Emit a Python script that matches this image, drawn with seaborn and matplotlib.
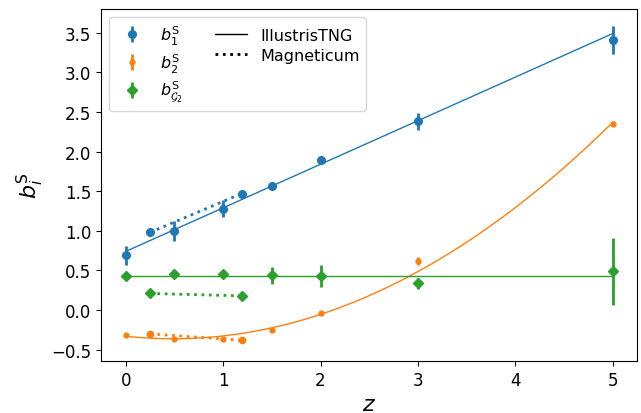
import numpy as np
import pandas as pd
import matplotlib
matplotlib.use("Agg")
import matplotlib.pyplot as plt
from matplotlib.lines import Line2D
import seaborn as sns

# IllustrisTNG measurements
z_tng = [0.0, 0.5, 1.0, 1.5, 2.0, 3.0, 5.0]
b1_tng = [0.69, 1.00, 1.28, 1.57, 1.89, 2.38, 3.41]
b1_tng_err = [0.12, 0.13, 0.11, 0.05, 0.04, 0.11, 0.18]
b2_tng = [-0.32, -0.37, -0.36, -0.25, -0.04, 0.62, 2.35]
b2_tng_err = [0.01, 0.01, 0.01, 0.01, 0.02, 0.05, 0.03]
bg2_tng = [0.43, 0.45, 0.46, 0.44, 0.43, 0.34, 0.49]
bg2_tng_err = [0.02, 0.02, 0.03, 0.11, 0.14, 0.07, 0.42]

# Magneticum measurements
z_mag = [0.25, 1.19]
b1_mag = [0.98, 1.47]
b2_mag = [-0.30, -0.38]
bg2_mag = [0.21, 0.18]

# IllustrisTNG polynomial fits (coefficients in increasing power of z)
fit_b1 = [0.74, 0.55]
fit_b2 = [-0.33, -0.13, 0.134]
fit_bg2 = [0.435]

labels = [r"$b_1^{\rm S}$", r"$b_2^{\rm S}$", r"$b_{\mathcal{G}_2}^{\rm S}$"]

sns.set_style("ticks", rc={"axes.edgecolor": "black", "xtick.color": "black",
                           "ytick.color": "black", "text.color": "black",
                           "axes.labelcolor": "black", "axes.linewidth": 0.8,
                           "xtick.major.size": 3.5, "ytick.major.size": 3.5,
                           "xtick.major.width": 0.8, "ytick.major.width": 0.8})
plt.rcParams["font.family"] = ["DejaVu Sans"]
plt.rcParams["legend.framealpha"] = 0.8
plt.rcParams["legend.edgecolor"] = "0.8"
plt.rcParams["legend.fancybox"] = True

pal = sns.color_palette("tab10")
c1, c2, c3 = pal[0], pal[1], pal[2]

fig, ax = plt.subplots(figsize=(6.41, 4.14), dpi=100)
fig.subplots_adjust(left=0.158, right=0.994, top=0.976, bottom=0.126)

zz = np.linspace(0, 5, 200)
fits = pd.DataFrame({
    "z": np.tile(zz, 3),
    "b": np.concatenate([np.polynomial.polynomial.polyval(zz, fit_b1),
                         np.polynomial.polynomial.polyval(zz, fit_b2),
                         np.polynomial.polynomial.polyval(zz, fit_bg2) * np.ones_like(zz)]),
    "kind": np.repeat(["b1", "b2", "bg2"], len(zz)),
})
sns.lineplot(data=fits, x="z", y="b", hue="kind", palette=[c1, c2, c3],
             linewidth=1, legend=False, ax=ax)

mag = pd.DataFrame({"z": z_mag * 3, "b": b1_mag + b2_mag + bg2_mag,
                    "kind": np.repeat(["b1", "b2", "bg2"], len(z_mag))})
sns.lineplot(data=mag, x="z", y="b", hue="kind", palette=[c1, c2, c3],
             linewidth=2, linestyle=":", legend=False, ax=ax)
ax.plot(z_mag, b1_mag, "o", color=c1, ms=5.5)
ax.plot(z_mag, b2_mag, "o", color=c2, ms=4.5)
ax.plot(z_mag, bg2_mag, "D", color=c3, ms=5.5)

h1 = ax.errorbar(z_tng, b1_tng, yerr=b1_tng_err, fmt="o", color=c1, ms=5.5,
                 elinewidth=2, label=labels[0])
h2 = ax.errorbar(z_tng, b2_tng, yerr=b2_tng_err, fmt="o", color=c2, ms=3.5,
                 elinewidth=2, label=labels[1])
h3 = ax.errorbar(z_tng, bg2_tng, yerr=bg2_tng_err, fmt="D", color=c3, ms=5.5,
                 elinewidth=2, label=labels[2])

l_tng = Line2D([], [], color="k", lw=1, label="IllustrisTNG")
l_mag = Line2D([], [], color="k", lw=2, ls=":", label="Magneticum")
ax.legend(handles=[h1, h2, h3, l_tng, l_mag], ncol=2, loc="upper left",
          fontsize=11.5, labelspacing=0.3)

ax.set_xlabel(r"$z$", fontsize=16)
ax.set_ylabel(r"$b_i^{\rm S}$", fontsize=16)
ax.set_yticks(np.arange(-0.5, 3.51, 0.5))
ax.set_xticks(range(0, 6))
ax.tick_params(labelsize=12)
ax.set_xlim(-0.25, 5.25)
ax.set_ylim(-0.64, 3.80)

fig.savefig("out.png", dpi=100)
